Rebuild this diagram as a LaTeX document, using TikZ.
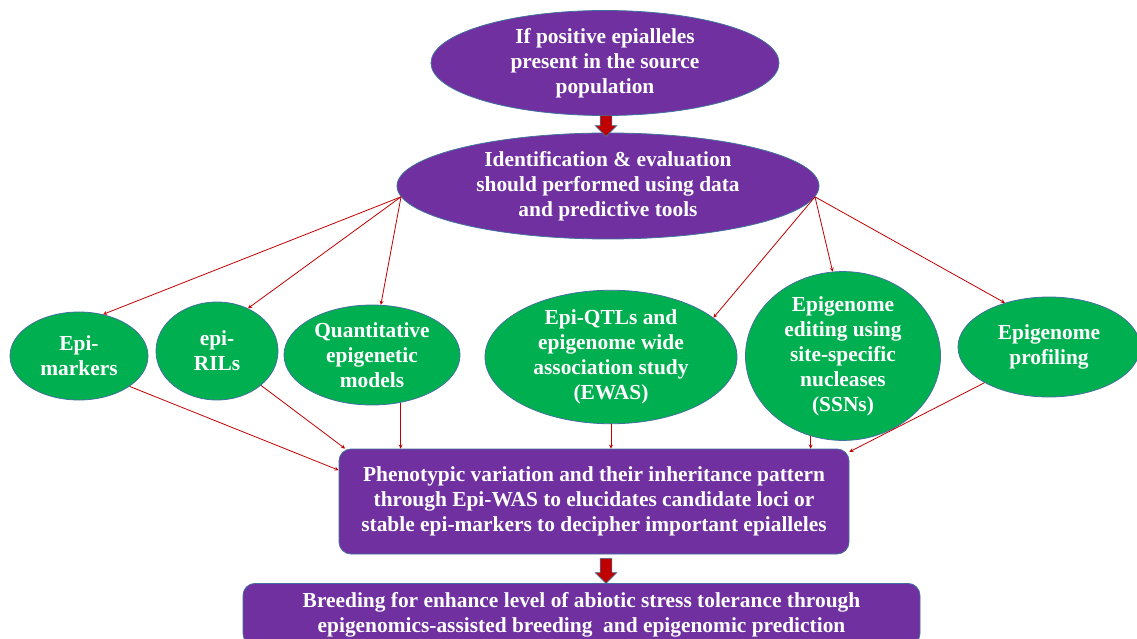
\documentclass[tikz,border=0pt]{standalone}
\usepackage{fontspec}
\setmainfont{Liberation Serif}
\usetikzlibrary{shapes.geometric,shapes.arrows}
\definecolor{boxpurple}{HTML}{7030A0}
\definecolor{ovalgreen}{HTML}{00B050}
\definecolor{rimblue}{HTML}{41719C}
\definecolor{arrowred}{HTML}{C00000}

\begin{document}
\begin{tikzpicture}[x=1pt,y=-1pt,
        label text/.style={text=white,align=center,font=\fontsize{21.4}{25}\selectfont\bfseries},
        oval/.style={ellipse,draw=rimblue,line width=0.8pt,inner sep=0pt,label text},
        purple oval/.style={oval,fill=boxpurple},
        green oval/.style={oval,fill=ovalgreen},
        panel/.style={rectangle,rounded corners=12pt,draw=rimblue,line width=0.8pt,
          fill=boxpurple,inner sep=0pt,label text},
        fat arrow/.style={single arrow,draw=rimblue,fill=arrowred,line width=0.6pt,
          shape border rotate=270,inner sep=5.5pt,minimum width=21pt,
          single arrow head extend=5pt}]

        \fill[white] (0,0) rectangle (1137,639);
        \useasboundingbox (0,0) rectangle (1137,639);

        \node[purple oval,minimum width=348pt,minimum height=105pt] (source) at (605,63)
          {If positive epialleles\\present in the source\\population};
        \node[purple oval,minimum width=422pt,minimum height=106pt] (ident) at (608,186)
          {Identification \& evaluation\\should performed using data\\and predictive tools};

        \node[green oval,minimum width=138pt,minimum height=88pt] (markers) at (79,356) {Epi-\\markers};
        \node[green oval,minimum width=122pt,minimum height=98pt] (rils) at (217,351) {epi-\\RILs};
        \node[green oval,minimum width=176pt,minimum height=100pt] (quant) at (372,355)
          {Quantitative\\epigenetic\\models};
        \node[green oval,minimum width=252pt,minimum height=128pt] (qtls) at (611,357)
          {Epi-QTLs and\\epigenome wide\\association study\\(EWAS)};
        \node[green oval,minimum width=195pt,minimum height=147pt] (editing) at (843,356)
          {Epigenome\\editing using\\site-specific\\nucleases\\(SSNs)};
        \node[green oval,minimum width=182pt,minimum height=100pt] (profiling) at (1049,347)
          {Epigenome\\profiling};

        \node[panel,minimum width=510pt,minimum height=105pt] (pheno) at (594,501.5)
          {Phenotypic variation and their inheritance pattern\\through Epi-WAS to elucidates candidate loci or\\stable epi-markers to decipher important epialleles};
        \node[panel,minimum width=677pt,minimum height=62pt,anchor=north] (breed) at (581.5,583)
          {Breeding for enhance level of abiotic stress tolerance through\\epigenomics-assisted breeding\ \ and epigenomic prediction};

        \node[fat arrow,minimum height=21pt] (down1) at (606,123) {};
        \node[fat arrow,minimum height=25pt] (down2) at (606,568) {};

        \path[-stealth,arrowred,line width=0.8pt]

        (ident.183) edge (markers.60)

        (ident.183) edge (rils.54)

        (ident.183) edge (quant.80)

        (ident.357) edge (qtls.21)

        (ident.357) edge (editing.97)

        (ident.357) edge (profiling.135)

        (markers.329) edge (pheno.173)

        (rils.322) edge (pheno.168)

        (quant.-59) edge (quant.-59 |- pheno.north)

        (qtls.south) edge (qtls.south |- pheno.north)

        (editing.-112) edge (editing.-112 |- pheno.north)

        (profiling.209) edge (pheno.11)

        ;
\end{tikzpicture}
\end{document}
